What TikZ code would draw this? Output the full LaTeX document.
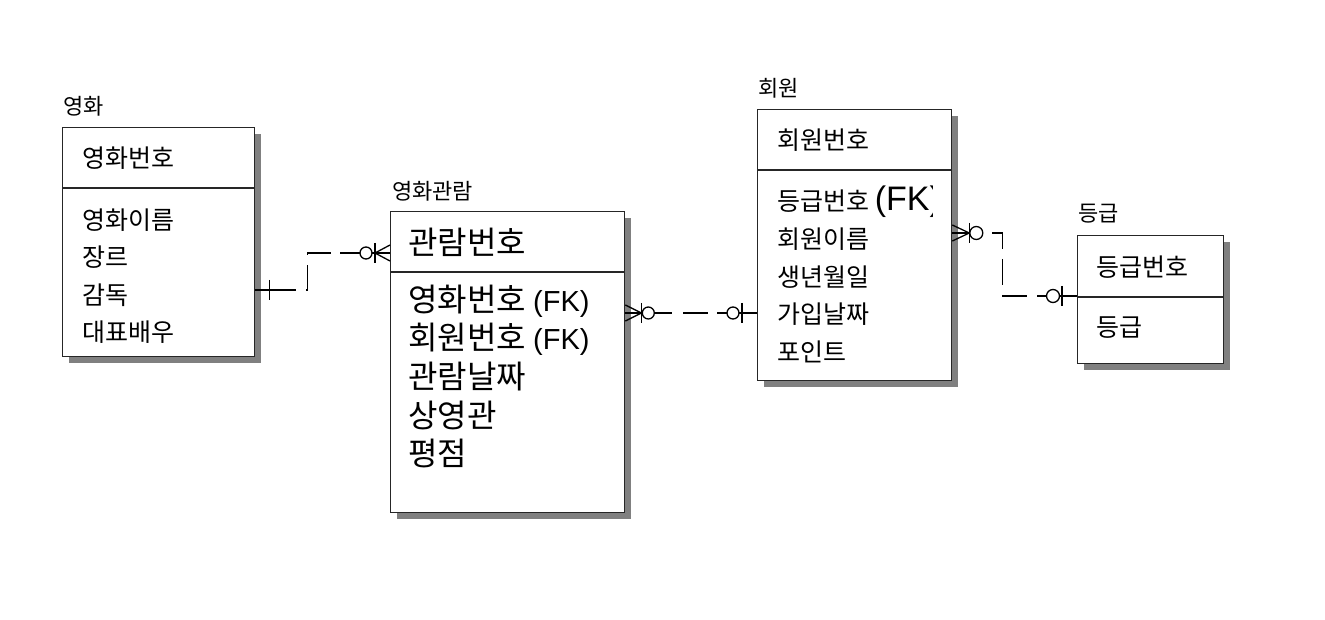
\documentclass[tikz,border=0pt]{standalone}
\usepackage{fontspec}
\setmainfont{Noto Sans CJK KR}
\newfontfamily\fkfont{Liberation Sans}
\usetikzlibrary{calc,shadows}

\tikzset{
  entity/.style={draw=black!85, line width=1.3pt, fill=white, anchor=north west, inner sep=0pt,
    drop shadow={shadow xshift=6pt, shadow yshift=-6pt, fill=black!50, opacity=1}},
  divider/.style={draw=black!85, line width=1.3pt},
  ename/.style={anchor=west, inner sep=0pt, font=\fontsize{22}{26}\selectfont},
  attr/.style={anchor=west, inner sep=0pt, font=\fontsize{25}{30}\selectfont},
  bigattr/.style={anchor=west, inner sep=0pt, font=\fontsize{32}{36}\selectfont},
  rel/.style={line width=1.3pt},
  stub/.style={line width=1.3pt},
}
\newcommand{\fk}[1]{{\fkfont\fontsize{#1}{#1}\selectfont (FK)}}

\begin{document}
\begin{tikzpicture}[x=1pt, y=-1pt]
    \useasboundingbox (0,0) rectangle (1325,620);

    % 영화
    \node [ename] (movie-name) at (63,106) {영화};
    \node [entity, minimum width=192pt, minimum height=229pt] (movie) at (62,127) {};
    \draw [divider] ($(movie.north west)+(0,61)$) -- ($(movie.north east)+(0,61)$);
    \node [attr] (movie-key) at (82,158) {영화번호};
    \foreach \t [count=\i] in {영화이름,장르,감독,대표배우}
      \node [attr] (movie-a\i) at (82,{220+37.5*(\i-1)}) {\t};

    % 영화관람
    \node [ename] (view-name) at (392,191) {영화관람};
    \node [entity, minimum width=234pt, minimum height=301pt] (view) at (390,211) {};
    \draw [divider] ($(view.north west)+(0,61)$) -- ($(view.north east)+(0,61)$);
    \node [bigattr] (view-key) at (408,242) {관람번호};
    \foreach \t [count=\i] in {영화번호 \fk{29},회원번호 \fk{29},관람날짜,상영관,평점}
      \node [bigattr] (view-a\i) at (408,{301+38*(\i-1)}) {\t};

    % 회원
    \node [ename] (member-name) at (758,88) {회원};
    \node [entity, minimum width=194pt, minimum height=271pt] (member) at (757,109) {};
    \draw [divider] ($(member.north west)+(0,61)$) -- ($(member.north east)+(0,61)$);
    \node [attr] (member-key) at (777,140) {회원번호};
    \begin{scope}
      \clip (757,109) rectangle (932,380);
      \node [attr] (member-a1) at (777,202) {등급번호 \fk{34}};
    \end{scope}
    \foreach \t [count=\i from 2] in {회원이름,생년월일,가입날짜,포인트}
      \node [attr] (member-a\i) at (777,{202+37.5*(\i-1)}) {\t};

    % 등급
    \node [ename] (grade-name) at (1078,214) {등급};
    \node [entity, minimum width=146pt, minimum height=128pt] (grade) at (1077,235) {};
    \draw [divider] ($(grade.north west)+(0,62)$) -- ($(grade.north east)+(0,62)$);
    \node [attr] (grade-key) at (1096,267) {등급번호};
    \node [attr] (grade-a1) at (1096,328) {등급};

    % relationship ends
    \coordinate (c1s) at ($(movie.north east)+(0,163)$);
    \coordinate (c1e) at ($(view.north west)+(0,42)$);
    \coordinate (c2s) at ($(view.north east)+(0,102)$);
    \coordinate (c2e) at ($(member.north west)+(0,204)$);
    \coordinate (c3s) at ($(member.north east)+(0,124)$);
    \coordinate (c3e) at ($(grade.north west)+(0,61)$);

    % 영화 -- 영화관람
    \draw [rel, dash pattern=on 26pt off 10pt, dash phase=21pt] (c1s) -- ($(c1s)+(52,0)$) |- (c1e);
    \draw [stub] (c1s) -- ++(41,0);
    \draw [stub] (c1s) ++(14,-10) -- ++(0,20);
    \draw [stub] (c1e) -- ++(-50,0);
    \draw [stub] (c1e) ++(0,-8) -- ++(-15,8) -- ++(15,8);
    \draw [stub] (c1e) ++(-15,-10) -- ++(0,20);
    \draw [stub, fill=white] (c1e) ++(-24,0) circle [radius=6];

    % 영화관람 -- 회원
    \draw [rel, dash pattern=on 25pt off 11pt, dash phase=14pt] (c2s) -- (c2e);
    \draw [stub] (c2s) -- ++(47,0);
    \draw [stub] (c2s) ++(0,-8) -- ++(16,8) -- ++(-16,8);
    \draw [stub] (c2s) ++(16,-10) -- ++(0,20);
    \draw [stub, fill=white] (c2s) ++(23,0) circle [radius=6];
    \draw [stub] (c2e) -- ++(-40,0);
    \draw [stub] (c2e) ++(-15,-10) -- ++(0,20);
    \draw [stub, fill=white] (c2e) ++(-24,0) circle [radius=6];

    % 회원 -- 등급
    \draw [rel, dash pattern=on 26pt off 10pt, dash phase=32pt] (c3s) -- ($(c3s)+(50,0)$) |- (c3e);
    \draw [stub] (c3s) -- ++(31,0);
    \draw [stub] (c3s) ++(0,-8) -- ++(17,8) -- ++(-17,8);
    \draw [stub] (c3s) ++(17,-10) -- ++(0,20);
    \draw [stub, fill=white] (c3s) ++(24,0) circle [radius=6.5];
    \draw [stub] (c3e) -- ++(-40,0);
    \draw [stub] (c3e) ++(-15,-10) -- ++(0,20);
    \draw [stub, fill=white] (c3e) ++(-24,0) circle [radius=6.5];
\end{tikzpicture}
\end{document}
